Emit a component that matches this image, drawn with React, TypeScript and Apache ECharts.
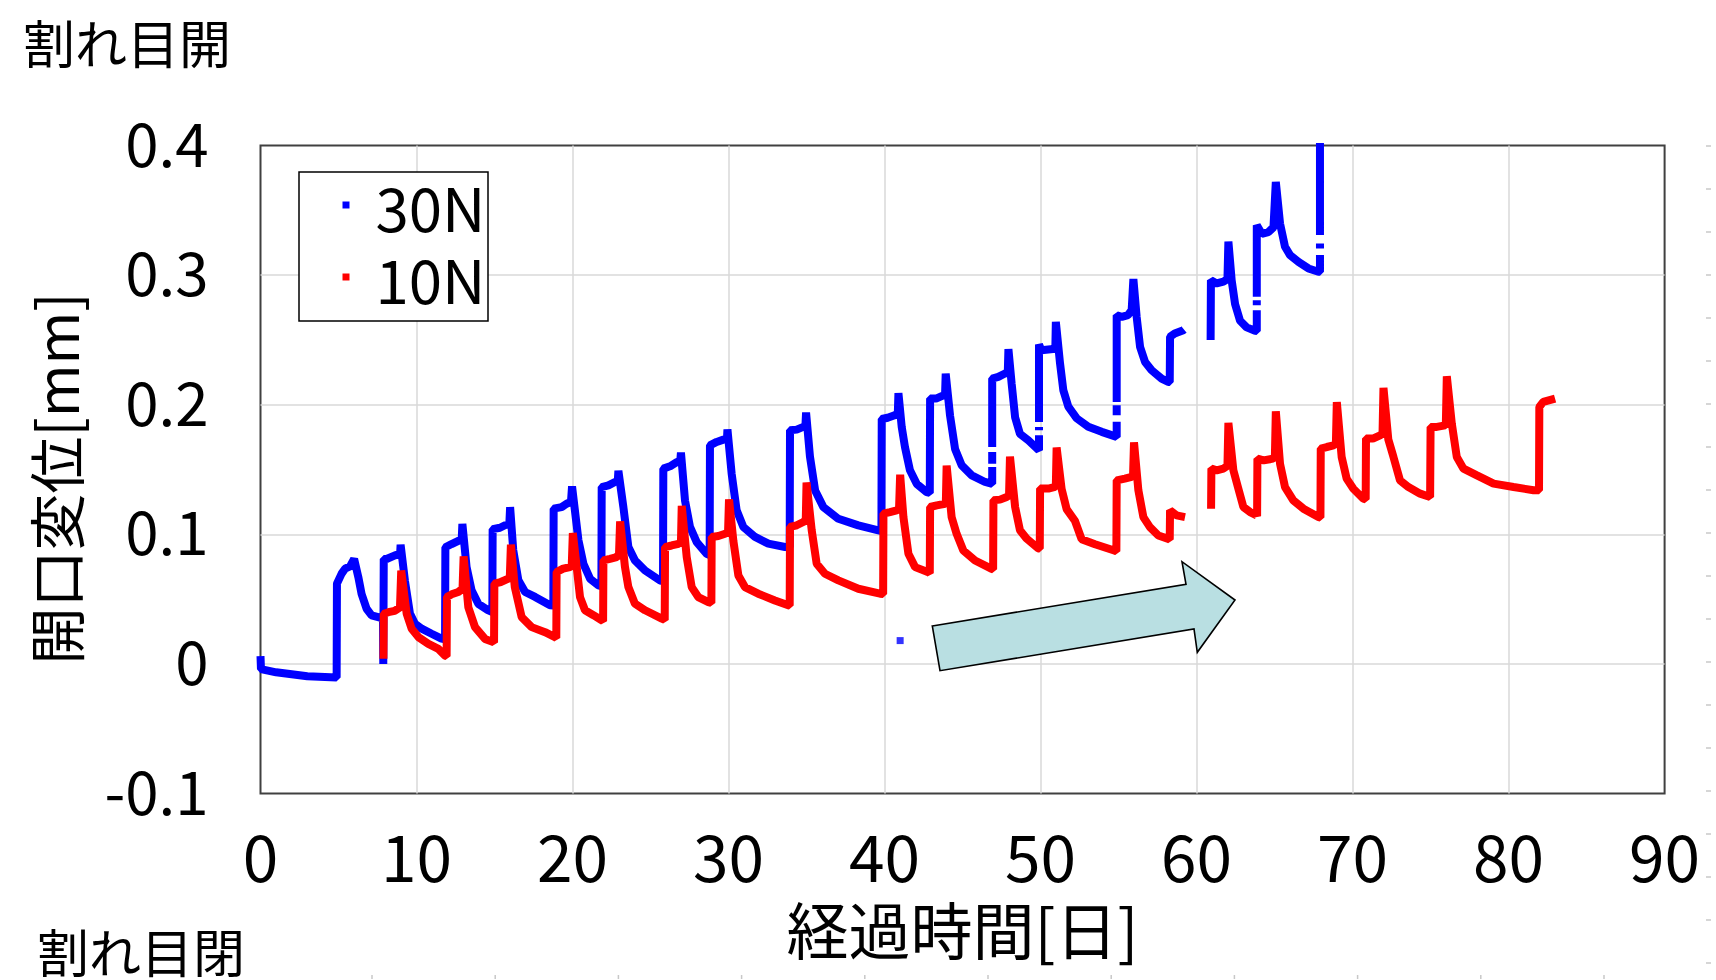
import React, { useEffect, useRef } from "react";
import * as echarts from "echarts";

// ---- data (day, opening displacement mm); null = gap in the record ----
const SERIES_NAMES = ["30N", "10N"];
const X_TICKS = { min: 0, max: 90, interval: 10 };
const Y_TICKS = { min: -0.1, max: 0.4, interval: 0.1 };

const DISP_30N: (number[] | null)[] = [
  [0, 0.006], [0.03, -0.004], [1, -0.0065], [2, -0.008], [3, -0.0095], [4.88, -0.0105],
  [4.9, 0.062], [5.2, 0.0697], [5.42, 0.0735], [5.74, 0.0753], [6.0, 0.081], [6.27, 0.067],
  [6.48, 0.054], [6.8, 0.0426], [7.12, 0.0375], [7.66, 0.0357], [7.85, 0.036], [7.87, 0.0],
  [7.9, 0.081], [8.08, 0.081], [8.62, 0.0838], [8.95, 0.085], [8.98, 0.092], [9.26, 0.064],
  [9.58, 0.0388], [9.9, 0.031], [10.33, 0.0272], [10.97, 0.0233], [11.6, 0.0195], [11.83, 0.019],
  [11.85, 0.09], [12.25, 0.0925], [12.68, 0.095], [12.9, 0.097], [12.94, 0.108], [13.21, 0.0747],
  [13.53, 0.0568], [13.96, 0.0464], [14.6, 0.0413], [14.86, 0.04], [14.88, 0.104], [15.35, 0.1051],
  [15.67, 0.107], [15.95, 0.108], [16.0, 0.121], [16.2, 0.0878], [16.53, 0.0645], [16.96, 0.0555],
  [17.6, 0.0517], [18.56, 0.0452], [18.77, 0.045], [18.79, 0.1198], [19.3, 0.121], [19.62, 0.1236],
  [19.9, 0.125], [19.97, 0.137], [20.38, 0.0954], [20.7, 0.0772], [21.13, 0.0657], [21.66, 0.0606],
  [21.85, 0.06], [21.87, 0.1365], [22.3, 0.1378], [22.72, 0.1404], [22.9, 0.141], [22.94, 0.149],
  [23.26, 0.121], [23.58, 0.0902], [24.0, 0.0799], [24.65, 0.0721], [25.61, 0.0644], [25.8, 0.064],
  [25.82, 0.1507], [26.25, 0.1525], [26.68, 0.1558], [26.9, 0.156], [26.95, 0.163], [27.21, 0.1262],
  [27.53, 0.1057], [27.96, 0.094], [28.6, 0.085], [28.79, 0.084], [28.81, 0.1687], [29.24, 0.1713],
  [29.67, 0.1731], [29.9, 0.174], [29.93, 0.181], [30.2, 0.1468], [30.52, 0.1185], [30.95, 0.1057],
  [31.7, 0.098], [32.55, 0.0928], [33.62, 0.0902], [33.92, 0.09], [33.94, 0.1803], [34.37, 0.1808],
  [34.79, 0.1829], [34.93, 0.184], [34.97, 0.194], [35.22, 0.16], [35.55, 0.1339], [36.08, 0.121],
  [37.04, 0.112], [38.32, 0.1069], [39.6, 0.103], [39.8, 0.1025], [39.82, 0.189], [40.2, 0.19],
  [40.6, 0.1917], [40.85, 0.193], [40.89, 0.209], [41.1, 0.183], [41.31, 0.1673], [41.63, 0.1494],
  [42.06, 0.139], [42.7, 0.1326], [42.9, 0.132], [42.92, 0.2048], [43.3, 0.2048], [43.77, 0.2073],
  [43.88, 0.208], [43.92, 0.224], [44.2, 0.1915], [44.52, 0.1659], [44.95, 0.1532], [45.59, 0.1455],
  [46.44, 0.1404], [46.9, 0.139], [46.9, 0.152], null, [46.9, 0.1545], [46.9, 0.1636], null,
  [46.9, 0.1674], [46.9, 0.2202], [47.29, 0.2215], [47.72, 0.2241], [47.9, 0.225], [47.94, 0.243],
  [48.15, 0.2159], [48.37, 0.1903], [48.68, 0.1776], [49.22, 0.1725], [49.9, 0.1648], [49.9, 0.1765],
  null, [49.9, 0.1803], [49.9, 0.1829], null, [49.9, 0.1867], [49.9, 0.2465], [50.05, 0.242],
  [50.8, 0.243], [50.95, 0.245], [50.98, 0.264], [51.25, 0.2318], [51.46, 0.2112], [51.78, 0.1985],
  [52.32, 0.1895], [53.06, 0.183], [53.92, 0.1791], [54.88, 0.1752], [54.88, 0.1868], null,
  [54.88, 0.192], [54.88, 0.1996], null, [54.88, 0.2022], [54.88, 0.2691], [55.21, 0.2678],
  [55.6, 0.2691], [55.84, 0.273], [55.95, 0.297], [56.16, 0.2678], [56.38, 0.2446], [56.7, 0.233],
  [57.12, 0.2266], [57.76, 0.2202], [58.19, 0.2176], [58.28, 0.2176], [58.3, 0.2524], [58.6, 0.255],
  [59.15, 0.2575], [59.2, 0.258], null,
  [60.9, 0.25], [60.92, 0.2961], [61.29, 0.2936], [61.72, 0.295], [61.98, 0.297], [62.04, 0.326],
  [62.25, 0.296], [62.47, 0.2777], [62.79, 0.2648], [63.21, 0.2597], [63.75, 0.2571], [63.86, 0.257],
  [63.86, 0.273], null, [63.86, 0.2768], [63.86, 0.2807], null, [63.86, 0.2833], [63.86, 0.3386],
  [64.18, 0.3319], [64.6, 0.3332], [64.93, 0.337], [65.08, 0.372], [65.35, 0.3399], [65.67, 0.3219],
  [65.99, 0.3155], [66.53, 0.3103], [67.17, 0.3052], [67.81, 0.3026], [67.91, 0.3026], [67.91, 0.3155],
  null, [67.91, 0.3205], [67.91, 0.3245], null, [67.91, 0.331], [67.91, 0.402],
];

const DISP_30N_STRAY: number[][] = [[41.0, 0.018]];

const DISP_10N: (number[] | null)[] = [
  [7.88, 0.004], [7.9, 0.0387], [8.2, 0.0399], [8.6, 0.041], [8.94, 0.0436], [9.02, 0.072],
  [9.37, 0.0387], [9.69, 0.0271], [10.12, 0.0207], [10.76, 0.0155], [11.4, 0.0116], [11.83, 0.0064],
  [11.93, 0.006], [11.95, 0.0516], [12.25, 0.0537], [12.68, 0.0555], [12.95, 0.058], [13.02, 0.083],
  [13.32, 0.0438], [13.75, 0.0284], [14.39, 0.0193], [14.92, 0.0168], [14.97, 0.0165], [14.99, 0.0619],
  [15.4, 0.0632], [15.89, 0.0658], [15.98, 0.067], [16.05, 0.092], [16.3, 0.0593], [16.74, 0.0361],
  [17.38, 0.0284], [18.24, 0.0245], [18.88, 0.0206], [18.96, 0.02], [18.98, 0.0709], [19.4, 0.0735],
  [19.84, 0.0747], [19.95, 0.076], [20.02, 0.101], [20.2, 0.082], [20.48, 0.0516], [20.8, 0.0414],
  [21.34, 0.0376], [21.87, 0.0337], [21.96, 0.033], [21.98, 0.0799], [22.4, 0.0811], [22.83, 0.0824],
  [22.98, 0.085], [23.05, 0.11], [23.36, 0.075], [23.58, 0.0593], [24.0, 0.0465], [24.65, 0.0414],
  [25.72, 0.035], [25.91, 0.034], [25.93, 0.0902], [26.35, 0.0914], [26.79, 0.0927], [26.95, 0.094],
  [27.0, 0.122], [27.32, 0.0824], [27.64, 0.0593], [28.06, 0.0516], [28.71, 0.0477], [28.9, 0.047],
  [28.92, 0.098], [29.35, 0.0987], [29.78, 0.1004], [29.97, 0.102], [30.03, 0.127], [30.31, 0.095],
  [30.63, 0.0683], [31.05, 0.0593], [31.9, 0.0542], [32.97, 0.049], [33.83, 0.0452], [33.92, 0.045],
  [33.94, 0.1057], [34.37, 0.107], [34.79, 0.1095], [34.95, 0.111], [35.0, 0.14], [35.33, 0.1032],
  [35.65, 0.0773], [36.18, 0.0696], [37.04, 0.0645], [38.32, 0.058], [39.71, 0.0542], [39.91, 0.054],
  [39.93, 0.116], [40.35, 0.1172], [40.78, 0.1185], [40.93, 0.12], [41.0, 0.146], [41.21, 0.1133],
  [41.53, 0.085], [41.96, 0.0747], [42.81, 0.0708], [42.9, 0.07], [42.92, 0.1211], [43.35, 0.1224],
  [43.88, 0.1236], [43.93, 0.125], [43.98, 0.153], [44.3, 0.1133], [44.62, 0.1004], [45.05, 0.0875],
  [45.8, 0.0798], [46.87, 0.0733], [46.96, 0.073], [46.98, 0.1263], [47.4, 0.1268], [47.83, 0.1288],
  [47.98, 0.13], [48.04, 0.16], [48.37, 0.1211], [48.68, 0.1032], [49.1, 0.0968], [49.86, 0.0891],
  [49.95, 0.089], [49.97, 0.1353], [50.5, 0.1353], [50.93, 0.1366], [50.98, 0.138], [51.03, 0.167],
  [51.35, 0.135], [51.67, 0.1195], [52.2, 0.1105], [52.63, 0.0963], [53.49, 0.0924], [54.77, 0.0873],
  [54.86, 0.087], [54.88, 0.1417], [55.4, 0.143], [55.84, 0.1443], [55.93, 0.146], [55.99, 0.171],
  [56.27, 0.134], [56.59, 0.1133], [57.01, 0.1056], [57.55, 0.0991], [58.19, 0.0965], [58.28, 0.096],
  [58.3, 0.1185], [58.72, 0.1146], [59.26, 0.1133], null,
  [60.93, 0.1198], [60.95, 0.1507], [61.29, 0.1494], [61.72, 0.1507], [61.98, 0.153], [62.04, 0.186],
  [62.36, 0.1494], [62.68, 0.1352], [63.0, 0.1211], [63.43, 0.1172], [63.86, 0.1146], [63.88, 0.114],
  [63.9, 0.1584], [64.3, 0.1571], [64.9, 0.1584], [65.02, 0.16], [65.08, 0.195], [65.35, 0.1545],
  [65.67, 0.1365], [66.2, 0.1262], [66.85, 0.1198], [67.81, 0.1133], [67.94, 0.113], [67.96, 0.1662],
  [68.35, 0.1674], [68.78, 0.1687], [68.93, 0.17], [68.99, 0.202], [69.3, 0.1597], [69.62, 0.143],
  [70.05, 0.1352], [70.69, 0.1275], [70.84, 0.127], [70.86, 0.1739], [71.3, 0.1739], [71.76, 0.1764],
  [71.92, 0.178], [71.98, 0.213], [72.29, 0.1733], [72.62, 0.1597], [73.04, 0.1417], [73.58, 0.1365],
  [74.33, 0.1314], [74.97, 0.1288], [74.99, 0.1288], [75.0, 0.1829], [75.4, 0.1829], [75.93, 0.1841],
  [75.98, 0.186], [76.04, 0.222], [76.36, 0.1854], [76.68, 0.1597], [77.11, 0.1507], [77.97, 0.1455],
  [79.04, 0.1391], [80.32, 0.1365], [81.6, 0.134], [81.95, 0.134], [81.97, 0.1983], [82.22, 0.2022],
  [82.98, 0.2048],
];

const NUM_FONT = "'Noto Sans CJK JP', 'Noto Sans', sans-serif";
const CJK_FONT = "'Noto Sans CJK JP', 'Noto Sans CJK SC', sans-serif";

const toSeriesData = (arr: (number[] | null)[]) =>
  arr.map((p) => (p === null ? ["-", "-"] : p));

const ARROW_POINTS = [
  [932.3, 626],
  [1186, 584.3],
  [1182, 561.7],
  [1235, 600],
  [1197.3, 652.3],
  [1194, 629],
  [940, 670.7],
];

export default function App() {
  const ref = useRef<HTMLDivElement>(null);

  useEffect(() => {
    if (!ref.current) return;
    const chart = echarts.init(ref.current, undefined, { renderer: "svg" });

    const decor: any[] = [];
    for (let y = 146; y < 975; y += 43) {
      decor.push({
        type: "line",
        shape: { x1: 1706, y1: y, x2: 1711, y2: y },
        style: { stroke: "#c8c8c8", lineWidth: 1.5 },
        silent: true,
      });
    }
    for (let x = 372; x < 1610; x += 123.2) {
      decor.push({
        type: "line",
        shape: { x1: x, y1: 975, x2: x, y2: 979 },
        style: { stroke: "#c8c8c8", lineWidth: 1.5 },
        silent: true,
      });
    }

    const titleStyle = {
      fontFamily: CJK_FONT,
      fontSize: 52,
      lineHeight: 52,
      fontWeight: "normal",
      color: "#000",
    };

    const option: any = {
      animation: false,
      backgroundColor: "#ffffff",
      title: [
        { text: "割れ目開", left: 23, top: 15, padding: 0, textStyle: titleStyle },
        { text: "割れ目閉", left: 37, top: 924, padding: 0, textStyle: titleStyle },
      ],
      grid: {
        left: 260.5,
        right: 51.4,
        top: 145.6,
        bottom: 186.5,
        show: true,
        borderColor: "#404040",
        borderWidth: 2,
        backgroundColor: "transparent",
        containLabel: false,
        outerBoundsMode: "none",
      },
      legend: {
        data: SERIES_NAMES,
        orient: "vertical",
        left: 342.5,
        top: 175,
        padding: 0,
        itemGap: 12,
        itemWidth: 7,
        itemHeight: 7,
        icon: "rect",
        itemStyle: { borderWidth: 0 },
        textStyle: {
          fontFamily: NUM_FONT,
          fontSize: 60,
          lineHeight: 60,
          color: "#000",
          padding: [0, 0, 0, 21],
        },
        z: 6,
      },
      xAxis: {
        type: "value",
        min: X_TICKS.min,
        max: X_TICKS.max,
        interval: X_TICKS.interval,
        name: "経過時間[日]",
        nameLocation: "middle",
        nameGap: 103,
        nameTextStyle: {
          fontFamily: CJK_FONT,
          fontSize: 62,
          lineHeight: 62,
          color: "#000",
        },
        axisLine: { show: false },
        axisTick: { show: false },
        splitLine: {
          show: true,
          showMinLine: false,
          showMaxLine: false,
          lineStyle: { color: "#d9d9d9", width: 1.5 },
        },
        axisLabel: {
          fontFamily: NUM_FONT,
          fontSize: 64,
          lineHeight: 64,
          color: "#000",
          margin: 28,
        },
      },
      yAxis: {
        type: "value",
        min: Y_TICKS.min,
        max: Y_TICKS.max,
        interval: Y_TICKS.interval,
        name: "開口変位[mm]",
        nameLocation: "middle",
        nameRotate: 90,
        nameGap: 178,
        nameTextStyle: {
          fontFamily: CJK_FONT,
          fontSize: 57,
          lineHeight: 57,
          color: "#000",
          padding: [0, 18, 0, 0],
        },
        axisLine: { show: false },
        axisTick: { show: false },
        splitLine: {
          show: true,
          showMinLine: false,
          showMaxLine: false,
          lineStyle: { color: "#d9d9d9", width: 1.5 },
        },
        axisLabel: {
          fontFamily: NUM_FONT,
          fontSize: 60,
          lineHeight: 11,
          verticalAlign: "bottom",
          color: "#000",
          margin: 52,
          formatter: (v: number) => (Math.abs(v) < 1e-9 ? "0" : v.toFixed(1)),
        },
      },
      series: [
        {
          name: SERIES_NAMES[0],
          type: "line",
          data: toSeriesData(DISP_30N),
          showSymbol: false,
          symbol: "none",
          connectNulls: false,
          clip: false,
          lineStyle: { color: "#0000ff", width: 8, cap: "butt", join: "bevel" },
          itemStyle: { color: "#0000ff" },
          z: 3,
        },
        {
          name: SERIES_NAMES[0],
          type: "scatter",
          data: DISP_30N_STRAY,
          symbol: "rect",
          symbolSize: 7,
          itemStyle: { color: "#0000ff" },
          z: 3,
        },
        {
          name: SERIES_NAMES[1],
          type: "line",
          data: toSeriesData(DISP_10N),
          showSymbol: false,
          symbol: "none",
          connectNulls: false,
          clip: false,
          lineStyle: { color: "#ff0000", width: 8, cap: "butt", join: "bevel" },
          itemStyle: { color: "#ff0000" },
          z: 4,
        },
      ],
      graphic: [
        {
          type: "rect",
          shape: { x: 299, y: 172, width: 189, height: 149 },
          style: { fill: "#ffffff", stroke: "#000000", lineWidth: 1.5 },
          z: 5,
          silent: true,
        },
        {
          type: "polygon",
          shape: { points: ARROW_POINTS },
          style: { fill: "#b9dfe2", stroke: "#000000", lineWidth: 1.6 },
          z: 7,
          silent: true,
        },
        ...decor,
      ],
    };

    chart.setOption(option);
    return () => chart.dispose();
  }, []);

  return (
    <div
      ref={ref}
      style={{ position: "fixed", left: 0, top: 0, width: 1716, height: 980, background: "#fff" }}
    />
  );
}
